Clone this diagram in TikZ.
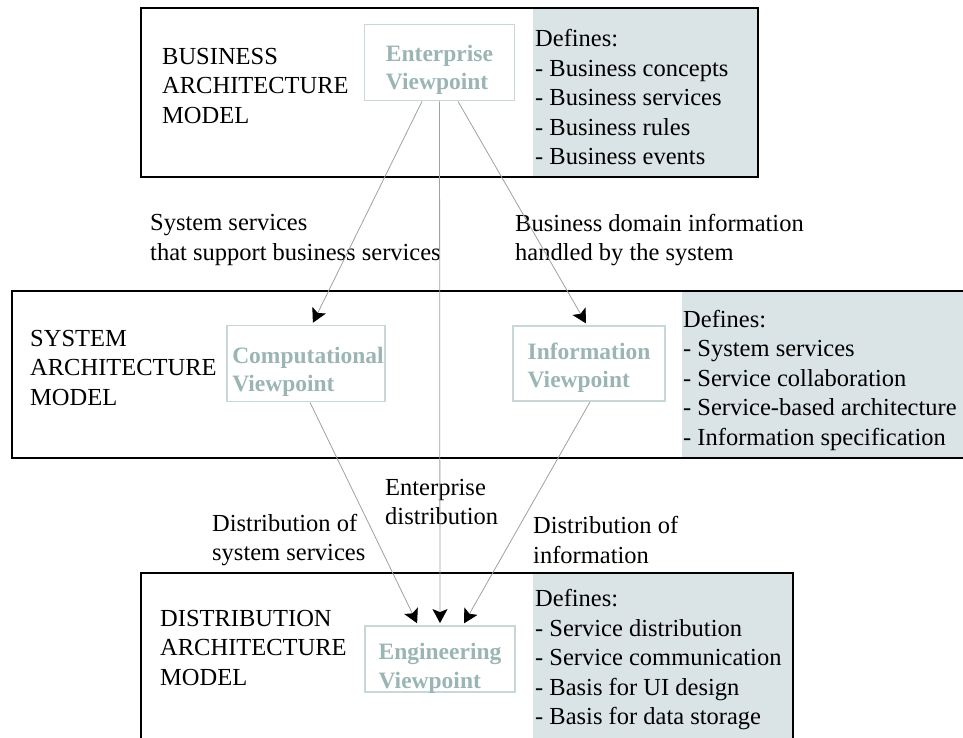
\documentclass[tikz,border=0pt]{standalone}
\usepackage{fontspec}
\setmainfont{Liberation Serif}
\usetikzlibrary{arrows.meta,calc}
\definecolor{shadecol}{HTML}{DAE3E6}
\definecolor{vptextcol}{HTML}{9BB4B4}
\definecolor{vplinecol}{HTML}{C8D7D7}
\definecolor{conncol}{HTML}{A0A0A0}
\begin{document}
\begin{tikzpicture}[x=1pt,y=-1pt,
  lbl/.style={align=left, inner sep=0pt, anchor=west, font=\fontsize{24.5}{29.5}\selectfont},
  modelbox/.style={draw=black, line width=2.6pt},
  shadebox/.style={fill=shadecol, draw=none},
  vpbox/.style={draw=vplinecol, line width=1.8pt, inner sep=0pt},
  vptxt/.style={align=left, inner sep=0pt, text=vptextcol, font=\fontsize{23.5}{28.5}\selectfont\bfseries},
  conn/.style={draw=conncol, line width=0.8pt, -{Stealth[length=14pt,width=15pt,inset=3pt,color=black,fill=black]}, shorten >=2pt}
]
\useasboundingbox (0,0) rectangle (963,738);
\clip (0,0) rectangle (963,738);

% model boxes
\fill[shadebox] (533,9) rectangle (757,176);
\draw[modelbox] (141,8) rectangle (758,177);
\fill[shadebox] (682,292) rectangle (980,457);
\draw[modelbox] (12,291) rectangle (980,458);
\fill[shadebox] (533,574) rectangle (792,760);
\draw[modelbox] (141,573) rectangle (793,770);

% model labels
\node[lbl] (bl) at (162,86) {BUSINESS\\ARCHITECTURE\\MODEL};
\node[lbl] (sl) at (30,368) {SYSTEM\\ARCHITECTURE\\MODEL};
\node[lbl] (dl) at (160,648) {DISTRIBUTION\\ARCHITECTURE\\MODEL};

% defines lists
\node[lbl] (bd) at (535,97) {Defines:\\- Business concepts\\- Business services\\- Business rules\\- Business events};
\node[lbl] (sd) at (683,380) {Defines:\\- System services\\- Service collaboration\\- Service-based architecture\\- Information specification};
\node[lbl] (dd) at (535,660) {Defines:\\- Service distribution\\- Service communication\\- Basis for UI design\\- Basis for data storage};

% viewpoint boxes
\node[vpbox, minimum width=150pt, minimum height=76pt] (ent) at (439.5,62.5) {};
\node[vptxt] (entT) at ($(ent)+(0,7.5)$) {Enterprise\\Viewpoint};
\node[vpbox, minimum width=158pt, minimum height=76pt] (comp) at (306,363.5) {};
\node[vptxt] (compT) at ($(comp)+(2,8.5)$) {Computational\\Viewpoint};
\node[vpbox, minimum width=152pt, minimum height=75pt] (info) at (589,363.5) {};
\node[vptxt] (infoT) at ($(info)+(0,4)$) {Information\\Viewpoint};
\node[vpbox, minimum width=150pt, minimum height=66pt] (eng) at (440,659) {};
\node[vptxt] (engT) at ($(eng)+(0,9.5)$) {Engineering\\Viewpoint};

% connector labels
\node[lbl] (l1) at (150,240) {System services\\that support business services};
\node[lbl] (l2) at (515,240) {Business domain information\\handled by the system};
\node[lbl] (l3) at (385,502) {Enterprise\\distribution};
\node[lbl] (l4) at (212,540) {Distribution of\\system services};
\node[lbl] (l5) at (533,540) {Distribution of\\information};

% connectors
\draw[conn] ($(ent.south)+(-17.5,0)$) -- ($(comp.north)+(6,0)$);
\draw[conn] ($(ent.south)+(18.5,0)$) -- ($(info.north)+(-2,0)$);
\draw[conn] (ent.south) -- (eng.north);
\draw[conn] ($(comp.south)+(4,0)$) -- ($(eng.north)+(-22,0)$);
\draw[conn] ($(info.south)+(1,0)$) -- ($(eng.north)+(23,0)$);
\end{tikzpicture}
\end{document}
